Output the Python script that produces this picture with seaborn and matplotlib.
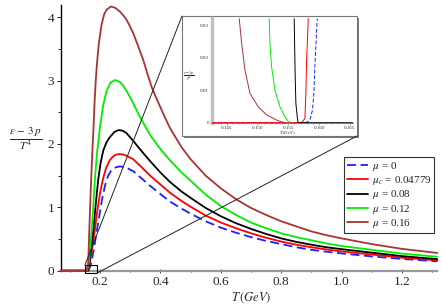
import numpy as np
import pandas as pd
import seaborn as sns
import matplotlib.pyplot as plt
from matplotlib.patches import Rectangle, ConnectionPatch
from matplotlib.lines import Line2D
from matplotlib.ticker import MultipleLocator

# ---- main curves: (eps - 3p)/T^4 vs T (GeV) ----
T_mu0 = [0.07, 0.162, 0.166, 0.171, 0.180, 0.190, 0.200, 0.207, 0.217, 0.227, 0.237,
         0.247, 0.258, 0.268, 0.280, 0.290, 0.310, 0.332, 0.366, 0.400, 0.432, 0.470,
         0.500, 0.550, 0.600, 0.650, 0.700, 0.750, 0.800, 0.850, 0.900, 0.950, 1.000,
         1.100, 1.200, 1.317]
V_mu0 = [0.0, 0.0, 0.05, 0.12, 0.35, 0.64, 0.93, 1.13, 1.35, 1.50, 1.58,
         1.62, 1.64, 1.645, 1.635, 1.62, 1.57, 1.48, 1.34, 1.21, 1.09, 0.98,
         0.90, 0.78, 0.68, 0.60, 0.53, 0.47, 0.42, 0.37, 0.33, 0.30, 0.273,
         0.225, 0.185, 0.148]

T_muc = [0.07, 0.160, 0.163, 0.166, 0.175, 0.183, 0.190, 0.200, 0.210, 0.220, 0.233,
         0.245, 0.255, 0.264, 0.275, 0.285, 0.310, 0.332, 0.366, 0.400, 0.432, 0.470,
         0.500, 0.550, 0.600, 0.650, 0.700, 0.750, 0.800, 0.850, 0.900, 0.950, 1.000,
         1.100, 1.200, 1.317]
V_muc = [0.0, 0.0, 0.05, 0.12, 0.38, 0.64, 0.91, 1.22, 1.45, 1.62, 1.75,
         1.81, 1.835, 1.84, 1.835, 1.82, 1.76, 1.66, 1.50, 1.36, 1.23, 1.10,
         1.01, 0.87, 0.76, 0.67, 0.59, 0.52, 0.46, 0.41, 0.37, 0.335, 0.305,
         0.255, 0.205, 0.163]

T_mu08 = [0.07, 0.159, 0.162, 0.165, 0.170, 0.178, 0.186, 0.194, 0.202, 0.211, 0.222,
          0.233, 0.248, 0.261, 0.275, 0.288, 0.310, 0.332, 0.366, 0.400, 0.432, 0.470,
          0.500, 0.550, 0.600, 0.650, 0.700, 0.750, 0.800, 0.850, 0.900, 0.950, 1.000,
          1.100, 1.200, 1.317]
V_mu08 = [0.0, 0.0, 0.05, 0.12, 0.33, 0.64, 1.05, 1.43, 1.70, 1.90, 2.03,
          2.11, 2.19, 2.22, 2.21, 2.17, 2.05, 1.92, 1.73, 1.55, 1.40, 1.25,
          1.15, 0.99, 0.86, 0.75, 0.66, 0.58, 0.51, 0.455, 0.41, 0.37, 0.34,
          0.285, 0.23, 0.183]

T_mu12 = [0.07, 0.157, 0.160, 0.163, 0.167, 0.1725, 0.178, 0.183, 0.190, 0.200, 0.211,
          0.222, 0.235, 0.250, 0.265, 0.277, 0.290, 0.305, 0.332, 0.366, 0.400, 0.432,
          0.470, 0.500, 0.550, 0.600, 0.650, 0.700, 0.750, 0.800, 0.850, 0.900, 0.950,
          1.000, 1.100, 1.200, 1.317]
V_mu12 = [0.0, 0.0, 0.05, 0.12, 0.33, 0.64, 1.02, 1.43, 1.85, 2.27, 2.62,
          2.84, 2.97, 3.01, 2.98, 2.92, 2.82, 2.69, 2.43, 2.14, 1.92, 1.74,
          1.55, 1.42, 1.20, 1.02, 0.88, 0.76, 0.67, 0.59, 0.53, 0.48, 0.43,
          0.39, 0.33, 0.27, 0.22]

T_mu16 = [0.07, 0.155, 0.158, 0.161, 0.1646, 0.170, 0.174, 0.178, 0.182, 0.186, 0.190,
          0.196, 0.205, 0.214, 0.222, 0.236, 0.250, 0.266, 0.277, 0.288, 0.299, 0.310,
          0.326, 0.343, 0.357, 0.371, 0.385, 0.399, 0.415, 0.432, 0.470, 0.500, 0.550,
          0.600, 0.650, 0.700, 0.750, 0.800, 0.850, 0.900, 0.950, 1.000, 1.100, 1.200,
          1.317]
V_mu16 = [0.0, 0.0, 0.05, 0.12, 0.64, 1.35, 1.80, 2.20, 2.65, 3.00, 3.27,
          3.58, 3.88, 4.05, 4.12, 4.17, 4.15, 4.09, 4.03, 3.96, 3.86, 3.75,
          3.55, 3.33, 3.11, 2.90, 2.74, 2.59, 2.42, 2.25, 1.95, 1.76, 1.50,
          1.30, 1.13, 0.99, 0.88, 0.78, 0.70, 0.62, 0.56, 0.51, 0.42, 0.345,
          0.28]

# ---- inset curves (zoom near T_c) ----
iT_mu0 = [0.1426, 0.15785, 0.1585, 0.15893, 0.15915, 0.15936, 0.1596, 0.1597]
iV_mu0 = [0.0, 0.0, 0.0008, 0.0039, 0.009, 0.0193, 0.0285, 0.032]
iT_muc = [0.1426, 0.15715, 0.1577, 0.15785, 0.15797, 0.15813, 0.15823]
iV_muc = [0.0, 0.0, 0.0013, 0.009, 0.0193, 0.0264, 0.032]
iT_mu08 = [0.15596, 0.15602, 0.15612, 0.15623, 0.15645, 0.1566, 0.1655]
iV_mu08 = [0.032, 0.0244, 0.0141, 0.006, 0.0018, 0.0, 0.0]
iT_mu12 = [0.15190, 0.15202, 0.15229, 0.15283, 0.15364, 0.15445, 0.15515]
iV_mu12 = [0.032, 0.0244, 0.0172, 0.010, 0.0049, 0.0018, 0.0]
iT_mu16 = [0.14704, 0.14743, 0.14797, 0.14878, 0.15012, 0.15148, 0.1531, 0.15417]
iV_mu16 = [0.032, 0.0244, 0.0162, 0.0090, 0.0049, 0.0024, 0.0008, 0.0001]

labels = [r'$\mu$ = 0', r'$\mu_c$ = 0.04779', r'$\mu$ = 0.08', r'$\mu$ = 0.12', r'$\mu$ = 0.16']
colors = ['#1f1fff', '#ff0000', '#000000', '#00ee00', '#a83434']

sns.set_theme(style='white')
plt.rcParams['font.family'] = ['Liberation Serif', 'DejaVu Serif']
plt.rcParams['mathtext.fontset'] = 'stix'

W, H = 443, 305
fig = plt.figure(figsize=(W / 100, H / 100), dpi=100)
ax = fig.add_axes([61 / W, 34.3 / H, 376 / W, 266.1 / H])

main = [(T_mu0, V_mu0), (T_muc, V_muc), (T_mu08, V_mu08), (T_mu12, V_mu12), (T_mu16, V_mu16)]
for i, (t, v) in enumerate(main):
    df = pd.DataFrame({'T': t, 'v': v})
    ls = (0, (5, 2.5)) if i == 0 else '-'
    sns.lineplot(data=df, x='T', y='v', ax=ax, color=colors[i], lw=1.3,
                 linestyle=ls, sort=False, zorder=3 + i, clip_on=False)

ax.set_xlim(0.0709, 1.316)
ax.set_ylim(0, 4.2)
for s in ['top', 'right']:
    ax.spines[s].set_visible(False)
ax.spines['left'].set_color('black')
ax.spines['left'].set_linewidth(1.0)
ax.spines['bottom'].set_color('#999999')
ax.spines['bottom'].set_linewidth(1.6)
ax.xaxis.set_major_locator(MultipleLocator(0.2))
ax.xaxis.set_minor_locator(MultipleLocator(0.1))
ax.yaxis.set_major_locator(MultipleLocator(1))
ax.yaxis.set_minor_locator(MultipleLocator(0.5))
ax.tick_params(axis='x', which='both', direction='inout', length=3, width=0.7,
               color='#444444', labelsize=9.5, pad=2, bottom=True)
ax.tick_params(axis='x', which='minor', length=2)
ax.tick_params(axis='y', which='both', direction='out', length=3, width=0.7,
               labelsize=9.5, pad=2, left=True)
ax.tick_params(axis='y', which='minor', length=2)
ax.set_xlabel('')
ax.set_ylabel('')
ax.set_xticklabels([f'{t:.1f}' for t in ax.get_xticks()])
ax.text(0.70, -0.10, r'$T\,(GeV)$', transform=ax.get_xaxis_transform(),
        ha='center', va='center', fontsize=9)
fig.text(26 / W, 1 - 139 / H, r'$\frac{\epsilon\,-\,3\,p}{T^4}$', ha='center', va='center',
         fontsize=11.5)

# small box marking the zoomed region
ax.add_patch(Rectangle((0.1503, -0.041), 0.0387, 0.131, fill=False, ec='black',
                       lw=0.8, clip_on=False, zorder=10))

# legend
handles = [Line2D([], [], color=colors[i], lw=1.3,
                  linestyle=(0, (5, 2.5)) if i == 0 else '-') for i in range(5)]
leg = fig.legend(handles, labels, loc='upper left', bbox_to_anchor=(344 / W, 1 - 157 / H),
                 fontsize=8, frameon=True, fancybox=False, handlelength=1.9,
                 handletextpad=0.35, labelspacing=0.12, borderpad=0.25, borderaxespad=0)
leg.get_frame().set_edgecolor('black')
leg.get_frame().set_linewidth(0.8)

# inset frame with shadow
fx0, fy0, fx1, fy1 = 182, 16, 357, 136
fig.patches.append(Rectangle(((fx0 + 2) / W, 1 - (fy1 + 2) / H), (fx1 - fx0) / W, (fy1 - fy0) / H,
                             transform=fig.transFigure, fc='#777777', ec='none', zorder=5))
fig.patches.append(Rectangle((fx0 / W, 1 - fy1 / H), (fx1 - fx0) / W, (fy1 - fy0) / H,
                             transform=fig.transFigure, fc='white', ec='#777777', lw=0.8, zorder=6))

# connector lines
for (xa, ya), (xb, yb) in [((0.1503, 0.09), (fx0, fy0)), ((0.189, -0.041), (fx1, fy1))]:
    con = ConnectionPatch(xyA=(xa, ya), coordsA=ax.transData,
                          xyB=(xb / W, 1 - yb / H), coordsB=fig.transFigure,
                          color='#222222', lw=0.7, zorder=9)
    fig.add_artist(con)

axi = fig.add_axes([212 / W, 1 - 122.7 / H, 141 / W, 104.4 / H], zorder=8)
axi.patch.set_alpha(0)
axi.hlines(0, 0.1426, 0.1542, color=colors[4], lw=1.0, zorder=2)
inset = [(iT_mu0, iV_mu0), (iT_muc, iV_muc), (iT_mu08, iV_mu08), (iT_mu12, iV_mu12), (iT_mu16, iV_mu16)]
for i, (t, v) in enumerate(inset):
    df = pd.DataFrame({'T': t, 'v': v})
    ls = (0, (4, 2)) if i == 0 else '-'
    sns.lineplot(data=df, x='T', y='v', ax=axi, color=colors[i], lw=0.7,
                 linestyle=ls, sort=False, zorder=3 + i)
axi.set_xlim(0.14262, 0.1655)
axi.set_ylim(0, 0.0321)
axi.set_xlabel('')
axi.set_ylabel('')
for s in ['top', 'right']:
    axi.spines[s].set_visible(False)
axi.spines['left'].set_color('#c0c0c0')
axi.spines['left'].set_linewidth(2.5)
axi.spines['bottom'].set_color('#666666')
axi.spines['bottom'].set_linewidth(0.6)
axi.xaxis.set_major_locator(MultipleLocator(0.005))
axi.xaxis.set_minor_locator(MultipleLocator(0.001))
axi.yaxis.set_major_locator(MultipleLocator(0.01))
axi.yaxis.set_minor_locator(MultipleLocator(0.002))
axi.tick_params(which='both', direction='out', length=1.2, width=0.4, labelsize=3.6, pad=1,
                bottom=True, left=True, color='#666666')
axi.tick_params(which='minor', length=0.7)
axi.set_xticklabels([f'{t:.3f}' for t in axi.get_xticks()])
axi.set_yticklabels(['0' if t == 0 else f'{t:.2f}' for t in axi.get_yticks()])
fig.text(287 / W, 1 - 132.8 / H, r'$T\,(GeV)$', ha='center', va='center', fontsize=3.4, zorder=9)
fig.text(189 / W, 1 - 76 / H, r'$\frac{\epsilon-3\,p}{T^4}$', ha='center', va='center',
         fontsize=4, zorder=9)

fig.savefig('out.png', dpi=100)
